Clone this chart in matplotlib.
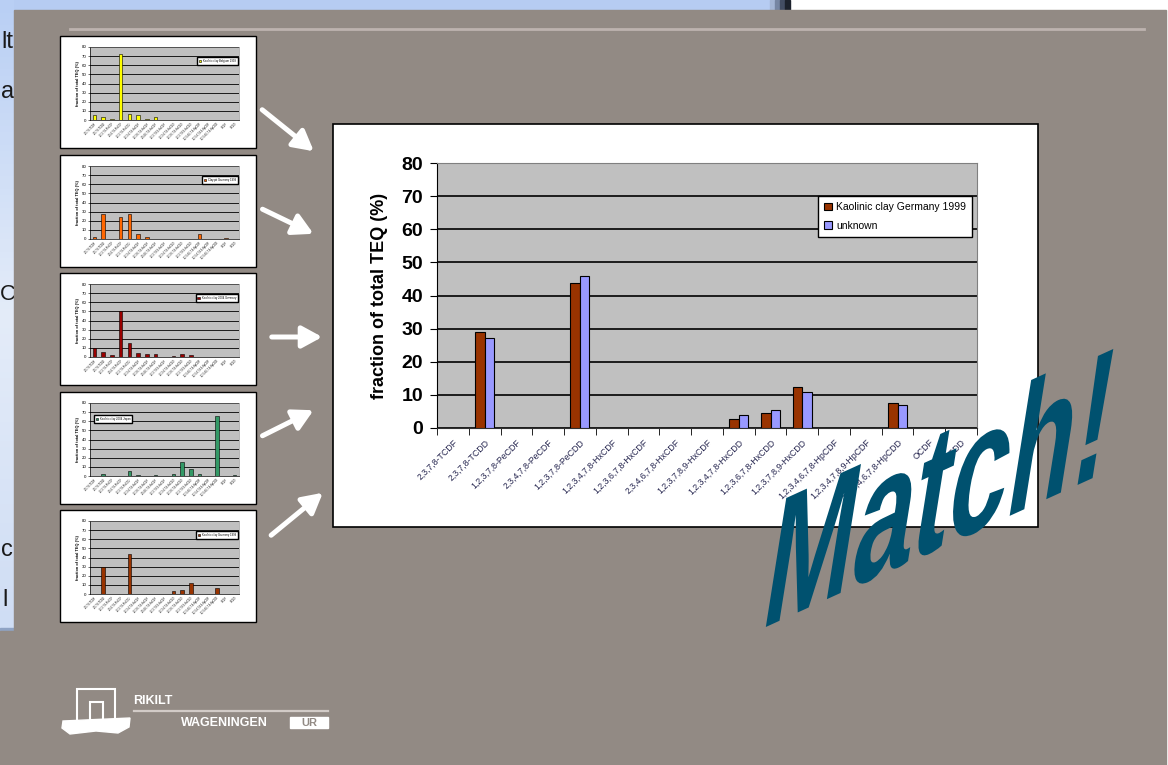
import numpy as np
import matplotlib
matplotlib.use("Agg")
import matplotlib.pyplot as plt
import matplotlib.patheffects as pe
from matplotlib.patches import Rectangle, Polygon, FancyArrowPatch
from matplotlib.transforms import Affine2D, ScaledTranslation
from matplotlib.colors import LinearSegmentedColormap

W, H = 1168, 765

congeners = ["2,3,7,8-TCDF", "2,3,7,8-TCDD", "1,2,3,7,8-PeCDF", "2,3,4,7,8-PeCDF",
             "1,2,3,7,8-PeCDD", "1,2,3,4,7,8-HxCDF", "1,2,3,6,7,8-HxCDF",
             "2,3,4,6,7,8-HxCDF", "1,2,3,7,8,9-HxCDF", "1,2,3,4,7,8-HxCDD",
             "1,2,3,6,7,8-HxCDD", "1,2,3,7,8,9-HxCDD", "1,2,3,4,6,7,8-HpCDF",
             "1,2,3,4,7,8,9-HpCDF", "1,2,3,4,6,7,8-HpCDD", "OCDF", "OCDD"]
kaolinic = [0, 29.1, 0, 0, 43.7, 0, 0, 0, 0, 2.8, 4.6, 12.5, 0, 0, 7.6, 0, 0]
unknown = [0, 27.3, 0, 0, 45.8, 0, 0, 0, 0, 3.9, 5.3, 11.0, 0, 0, 7.0, 0, 0]
series_names = ["Kaolinic clay Germany 1999", "unknown"]

# small charts on the left
thumb1 = [5, 3, 1.5, 72, 7, 6, 1.5, 3, 0, 0, 0, 0, 0, 0, 0, 0, 0]
thumb2 = [2.5, 27, 0, 23.6, 27, 5, 2.5, 0, 0, 0, 0, 0, 5, 0, 0, 1.5, 0]
thumb3 = [10, 5.5, 2, 50, 15.5, 4, 3, 3, 0, 1.5, 3, 2, 0, 0, 0, 0, 0]
thumb4 = [0, 2.2, 0, 0, 6, 1.1, 0, 1.1, 0, 2.2, 15, 7.5, 2.5, 0, 66, 0, 1.2]
thumb5 = [0, 29.5, 0, 0, 44, 0, 0, 0, 0, 3.6, 4.7, 12, 0, 0, 6.6, 0, 0]
thumb_labels = ["Kaolinic clay Belgium 1999", "Clay pit Germany 1999",
                "Kaolinic clay 2004 Germany", "Kaolinic clay 2004 Japan",
                "Kaolinic clay Germany 1999"]
thumb_colors = ["#FFFF00", "#FF6600", "#990000", "#339966", "#993300"]


def px(x0, y0, x1, y1):
    return [x0 / W, 1 - y1 / H, (x1 - x0) / W, (y1 - y0) / H]


class Warp(pe.AbstractPathEffect):
    # squeeze + shear the text path (word-art look), then shift it by dx, dy pixels
    def __init__(self, sx, xshear, yshear, dx=0, dy=0):
        super().__init__()
        self.sx, self.xshear, self.yshear = sx, xshear, yshear
        self.dx, self.dy = dx, dy

    def draw_path(self, renderer, gc, tpath, affine, rgbFace=None):
        ext = tpath.get_extents(affine)
        x0, y0 = ext.x0, ext.y0
        warp = (Affine2D().translate(-x0, -y0).scale(self.sx, 1)
                .skew_deg(self.xshear, self.yshear)
                .translate(x0 + self.dx, y0 + self.dy))
        renderer.draw_path(gc, tpath, affine + warp, rgbFace)


plt.rcParams['font.family'] = ['Liberation Sans', 'DejaVu Sans']

fig = plt.figure(figsize=(W / 100, H / 100), dpi=100)
fig.patch.set_facecolor('white')

bg = fig.add_axes([0, 0, 1, 1], zorder=-10)
bg.axis('off')

# slide underneath
bg.add_patch(Rectangle((0, 0), 770, 12, color='#B6CCF2', zorder=1))
for i, c in enumerate(['#A4B6D6', '#7686A3', '#434E63', '#1C222C']):
    bg.add_patch(Rectangle((770 + i * 5, 0), 5, 12, color=c, zorder=1))
cmap = LinearSegmentedColormap.from_list('strip', ['#B9CFF4', '#E4ECF9', '#CFDDF4'])
bg.imshow(np.linspace(0, 1, 100).reshape(-1, 1), extent=(0, 14, 630, 0),
          cmap=cmap, aspect='auto', zorder=1)
bg.add_patch(Rectangle((0, 628), 14, 3, color='#8FA3C4', zorder=1))
bg.add_patch(Rectangle((0, 631), 14, H - 631, color='#928A84', zorder=1))
for tx, ty, s, fs in [(1, 48, "lt", 17), (1, 98, "a", 17), (0, 300, "C", 16),
                      (1, 556, "c", 17), (2, 606, "l", 17)]:
    bg.text(tx, ty, s, fontsize=fs, color='#1A1A1A', va='baseline', zorder=2)

bg.add_patch(Rectangle((14, 10), 1152, H - 10, color='#928A84', zorder=3))
bg.plot([70, 1144], [29, 29], color='#BDB3AF', lw=2, zorder=4)

# white panel behind the main chart
bg.add_patch(Rectangle((333, 124), 705, 403, facecolor='white', edgecolor='black', lw=1.2, zorder=4))

# arrows
arrows = [((260, 108), (316, 153)), ((260, 208), (316, 235)), ((269, 337), (325, 337)),
          ((260, 437), (316, 409)), ((269, 537), (325, 491))]
for a, b in arrows:
    bg.add_patch(FancyArrowPatch(a, b, arrowstyle='-|>,head_length=0.55,head_width=0.3',
                                 mutation_scale=22, color='white', lw=3.6, zorder=5))

# logo
bg.add_patch(Rectangle((77, 689), 38, 33, fill=False, edgecolor='white', lw=1.5, zorder=5))
bg.add_patch(Rectangle((89.5, 702), 13, 18, fill=False, edgecolor='white', lw=1.5, zorder=5))
bg.add_patch(Polygon([(63, 721), (130, 718), (129, 727), (118, 733), (96, 731), (70, 734), (62, 728)],
                     color='white', zorder=5))
bg.text(133, 704.5, "RIKILT", color='white', fontsize=9, fontweight='bold', va='baseline', zorder=5)
bg.plot([134, 328], [710.5, 710.5], color='#D2CBC7', lw=1.6, zorder=5)
bg.text(224, 726.5, "WAGENINGEN", color='white', fontsize=9, fontweight='bold',
        ha='center', va='baseline', zorder=5)
bg.add_patch(Rectangle((290, 717), 38, 11, color='white', zorder=5))
bg.text(309, 726.5, "UR", color='#928A84', fontsize=8, fontweight='bold',
        ha='center', va='baseline', zorder=6)

x = np.arange(len(congeners))

# thumbnails
thumbs = [thumb1, thumb2, thumb3, thumb4, thumb5]
tops = [36, 155, 273, 392, 510]
for k, (vals, top) in enumerate(zip(thumbs, tops)):
    bg.add_patch(Rectangle((60, top), 196, 112, facecolor='white', edgecolor='black', lw=1, zorder=4))
    t = fig.add_axes(px(90, top + 11, 239, top + 84), zorder=2)
    t.bar(x, vals, width=0.4, color=thumb_colors[k], edgecolor='black', lw=0.4,
          label=thumb_labels[k], zorder=3)
    t.set_facecolor('#C0C0C0')
    t.set_xlim(-0.5, 16.5)
    t.set_ylim(0, 80)
    t.set_yticks(range(0, 81, 10))
    t.yaxis.grid(True, color='black', lw=0.6)
    t.set_axisbelow(True)
    t.set_xticks(x)
    t.set_xticklabels(congeners, rotation=45, ha='right', rotation_mode='anchor', fontsize=1.8)
    t.tick_params(axis='x', length=0, pad=1)
    t.tick_params(axis='y', labelsize=3.2, length=1.5, width=0.4, pad=1)
    t.set_ylabel("fraction of total TEQ (%)", fontsize=2.8, fontweight='bold', labelpad=1)
    for s in ['top', 'right']:
        t.spines[s].set_color('#808080')
        t.spines[s].set_linewidth(0.4)
    for s in ['left', 'bottom']:
        t.spines[s].set_linewidth(0.5)
    if k == 3:
        t.legend(loc='upper left', bbox_to_anchor=(0.027, 0.83), borderaxespad=0, fontsize=2,
                 fancybox=False, edgecolor='black', framealpha=1, handlelength=0.8,
                 handleheight=0.8, borderpad=0.6)
    else:
        t.legend(loc='upper right', bbox_to_anchor=(0.993, 0.86), borderaxespad=0, fontsize=2,
                 fancybox=False, edgecolor='black', framealpha=1, handlelength=0.8,
                 handleheight=0.8, borderpad=0.6)

bg.set_xlim(0, W)
bg.set_ylim(H, 0)

# main chart
ax = fig.add_axes(px(437, 163, 977, 428), zorder=2)
ax.bar(x - 0.15, kaolinic, width=0.3, color='#993300', edgecolor='black', lw=0.8,
       label=series_names[0], zorder=3)
ax.bar(x + 0.15, unknown, width=0.3, color='#9999FF', edgecolor='black', lw=0.8,
       label=series_names[1], zorder=3)
ax.set_facecolor('#C0C0C0')
ax.set_xlim(-0.5, 16.5)
ax.set_ylim(0, 80)
ax.set_yticks(range(0, 81, 10))
ax.yaxis.grid(True, color='black', lw=1.2)
ax.set_axisbelow(True)
ax.set_xticks(x)
ax.set_xticklabels(congeners, rotation=45, ha='right', rotation_mode='anchor',
                   fontsize=6.3, color='#24244E')
for lbl in ax.get_xticklabels():
    lbl.set_transform(lbl.get_transform() + ScaledTranslation(-0.03, 0, fig.dpi_scale_trans))
ax.tick_params(axis='x', which='major', length=0, pad=7)
ax.set_xticks(np.arange(-0.5, 17, 1), minor=True)
ax.tick_params(axis='x', which='minor', length=5, color='black', direction='out')
ax.tick_params(axis='y', labelsize=14, length=5, pad=5)
for lbl in ax.get_yticklabels():
    lbl.set_fontweight('bold')
ax.set_ylabel("fraction of total TEQ (%)", fontsize=13, fontweight='bold', labelpad=10)
for s in ['top', 'right']:
    ax.spines[s].set_color('#808080')
ax.spines['left'].set_color('black')
ax.spines['bottom'].set_color('#303030')
ax.legend(loc='upper right', bbox_to_anchor=(0.991, 0.875), borderaxespad=0, fontsize=7.5,
          fancybox=False, edgecolor='black', framealpha=1, handlelength=0.7,
          handleheight=0.7, handletextpad=0.4, labelspacing=0.8, borderpad=0.6)

# word art: the text is anchored further left so its plain box stays inside the
# figure; the path effect squeezes, shears and shifts it to its place
fig.text(500 / W, 1 - 627 / H, "Match!", fontsize=135, fontweight='bold', color='#00516F',
         ha='left', va='baseline', zorder=10, path_effects=[Warp(0.57, 9, 24.5, dx=253)])

fig.savefig('out.png', dpi=100)
